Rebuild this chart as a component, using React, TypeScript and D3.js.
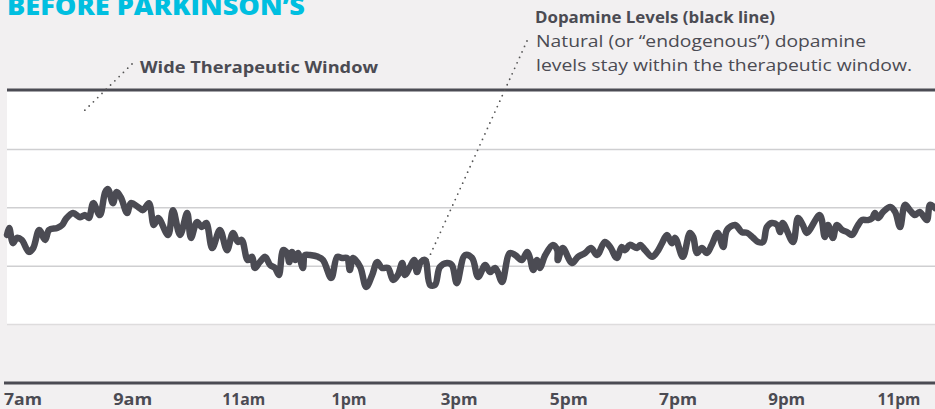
import React from "react";
import * as d3 from "d3";

// Time of day in hours (7 = 7am, 24 = midnight)
const hours = [
  7.0, 7.04, 7.11, 7.18, 7.27, 7.4, 7.48, 7.59, 7.7, 7.77, 7.92, 8.01, 8.08, 8.21, 8.34, 8.43, 8.5, 8.58, 8.7, 8.8,
  8.85, 8.94, 9.01, 9.09, 9.2, 9.27, 9.4, 9.49, 9.6, 9.69, 9.77, 9.95, 10.04, 10.17, 10.3, 10.37, 10.48, 10.57, 10.65, 10.76,
  10.9, 11.03, 11.14, 11.23, 11.3, 11.41, 11.49, 11.54, 11.63, 11.73, 11.82, 11.91, 11.98, 12.06, 12.13, 12.17, 12.22, 12.28, 12.33, 12.42,
  12.46, 12.55, 12.7, 12.79, 12.94, 13.05, 13.14, 13.23, 13.28, 13.34, 13.47, 13.58, 13.69, 13.78, 13.87, 13.98, 14.07, 14.16, 14.24, 14.29,
  14.38, 14.46, 14.51, 14.58, 14.66, 14.75, 14.84, 14.93, 15.06, 15.15, 15.24, 15.39, 15.52, 15.63, 15.76, 15.85, 15.94, 15.99, 16.07, 16.21,
  16.31, 16.43, 16.53, 16.58, 16.64, 16.71, 16.76, 16.86, 17.0, 17.08, 17.09, 17.18, 17.35, 17.46, 17.59, 17.7, 17.81, 17.95, 18.05, 18.17,
  18.26, 18.32, 18.41, 18.54, 18.6, 18.69, 18.82, 18.91, 19.0, 19.09, 19.18, 19.24, 19.38, 19.51, 19.57, 19.64, 19.73, 19.82, 19.91, 20.02,
  20.12, 20.19, 20.34, 20.46, 20.56, 20.67, 20.76, 20.85, 20.92, 21.01, 21.11, 21.16, 21.21, 21.4, 21.49, 21.58, 21.65, 21.89, 21.98, 22.04,
  22.13, 22.2, 22.3, 22.39, 22.48, 22.57, 22.66, 22.77, 22.85, 22.9, 22.96, 23.05, 23.18, 23.27, 23.36, 23.45, 23.54, 23.63, 23.72, 23.85,
  23.91, 24.0,
];

// Dopamine level (0–100 scale; therapeutic window spans 20–100)
const dopamine = [
  50.7, 53.1, 47.9, 49.7, 49.0, 44.9, 46.2, 52.4, 49.0, 52.4, 53.1, 54.1, 56.2, 58.2, 56.8, 57.5, 56.5, 61.6, 57.5, 65.4,
  66.4, 61.6, 65.4, 63.4, 58.2, 61.6, 60.3, 59.2, 61.6, 54.1, 56.5, 50.7, 59.2, 50.7, 58.2, 49.7, 55.1, 53.4, 54.8, 46.2,
  52.4, 45.5, 51.4, 48.3, 49.0, 42.1, 43.2, 39.4, 41.4, 43.2, 40.4, 39.4, 37.0, 45.5, 44.5, 41.4, 44.9, 42.1, 44.5, 39.4,
  43.8, 43.8, 43.2, 42.1, 36.0, 43.2, 42.8, 42.8, 38.7, 42.8, 39.7, 32.9, 37.0, 41.4, 39.4, 39.4, 35.3, 37.0, 41.1, 37.0,
  39.7, 42.1, 38.0, 41.4, 42.1, 33.6, 33.6, 39.7, 41.1, 40.4, 34.2, 43.8, 42.8, 36.3, 40.4, 38.0, 39.4, 38.0, 34.6, 44.5,
  43.8, 42.1, 44.9, 42.8, 38.7, 42.1, 39.4, 43.8, 47.3, 45.5, 42.1, 46.2, 41.1, 43.2, 44.5, 46.2, 43.8, 48.3, 46.6, 42.8,
  46.6, 45.5, 47.3, 46.2, 47.3, 45.5, 43.2, 44.9, 47.9, 50.7, 47.9, 49.7, 43.2, 51.4, 50.0, 44.5, 46.2, 44.5, 47.3, 51.4,
  46.6, 52.4, 54.1, 51.7, 51.4, 49.7, 48.3, 48.3, 53.4, 54.8, 54.1, 51.7, 54.8, 48.3, 56.5, 54.1, 51.4, 57.5, 50.0, 54.1,
  49.7, 54.1, 52.4, 51.7, 50.7, 53.4, 55.8, 55.8, 56.5, 58.2, 56.5, 58.6, 60.3, 58.6, 53.4, 61.0, 59.2, 57.5, 58.6, 55.8,
  61.0, 59.9,
];

const tickHours = [7, 9, 11, 13, 15, 17, 19, 21, 23];
const tickLabels = ["7am", "9am", "11am", "1pm", "3pm", "5pm", "7pm", "9pm", "11pm"];
const gridLevels = [40, 60, 80];
const windowRange = [20, 100];

const W = 935;
const H = 409;
const DARK = "#4b4b53";
const FONT = "'Open Sans', Lato, sans-serif";

export default function App() {
  const x = d3.scaleLinear().domain([7, 24]).range([7, 935]);
  const y = d3.scaleLinear().domain([0, 100]).range([383, 91]);

  const pts: [number, number][] = hours.map((h, i) => [h, dopamine[i]]);
  const line = d3
    .line<[number, number]>()
    .x((d) => x(d[0]))
    .y((d) => y(d[1]))
    .curve(d3.curveCatmullRom.alpha(0.5));

  const dotted = {
    stroke: "#555",
    strokeWidth: 1.8,
    strokeDasharray: "0 6",
    strokeLinecap: "round" as const,
    fill: "none",
  };

  const tickWidths = [38, 39, 43, 35, 37, 38, 38, 37, 43];

  return (
    <svg
      width={W}
      height={H}
      style={{ position: "absolute", left: 0, top: 0, display: "block" }}
    >
      <rect x={0} y={0} width={W} height={H} fill="#f2f0f1" />
      {/* therapeutic window */}
      <rect
        x={x(7)}
        y={y(windowRange[1])}
        width={x(24) - x(7)}
        height={y(windowRange[0]) - y(windowRange[1])}
        fill="#ffffff"
      />
      <line x1={x(7)} x2={W} y1={y(windowRange[0])} y2={y(windowRange[0])} stroke="#dedcdd" strokeWidth={1.5} />
      {gridLevels.map((g) => (
        <line key={g} x1={x(7)} x2={W} y1={y(g)} y2={y(g)} stroke="#cfcfd1" strokeWidth={1.5} />
      ))}
      <line x1={x(7)} x2={W} y1={y(100) - 1} y2={y(100) - 1} stroke={DARK} strokeWidth={3} />
      {/* x axis */}
      <line x1={4} x2={W} y1={y(0)} y2={y(0)} stroke={DARK} strokeWidth={3} />
      {tickHours.map((h, i) => (
        <text
          key={h}
          x={x(h) - 3}
          y={405}
          fontFamily={FONT}
          fontWeight={700}
          fontSize={15.5}
          fill={DARK}
          textLength={tickWidths[i]}
          lengthAdjust="spacingAndGlyphs"
        >
          {tickLabels[i]}
        </text>
      ))}
      {/* data line */}
      <path
        d={line(pts) || ""}
        fill="none"
        stroke={DARK}
        strokeWidth={6.5}
        strokeLinejoin="round"
        strokeLinecap="round"
      />
      {/* title */}
      <text
        x={7}
        y={15}
        fontFamily={FONT}
        fontWeight={800}
        fontSize={25}
        fill="#00bfe0"
        textLength={298}
        lengthAdjust="spacingAndGlyphs"
      >
        BEFORE PARKINSON’S
      </text>
      {/* annotations */}
      <line x1={132} y1={64} x2={82} y2={113} {...dotted} />
      <text
        x={140}
        y={73}
        fontFamily={FONT}
        fontWeight={700}
        fontSize={16.5}
        fill={DARK}
        textLength={238}
        lengthAdjust="spacingAndGlyphs"
      >
        Wide Therapeutic Window
      </text>
      <line x1={527} y1={41} x2={427} y2={262} {...dotted} />
      <text
        x={535}
        y={23}
        fontFamily={FONT}
        fontWeight={700}
        fontSize={16}
        fill={DARK}
        textLength={240}
        lengthAdjust="spacingAndGlyphs"
      >
        Dopamine Levels (black line)
      </text>
      <text
        x={536}
        y={47}
        fontFamily={FONT}
        fontWeight={400}
        fontSize={17}
        fill={DARK}
        textLength={330}
        lengthAdjust="spacingAndGlyphs"
      >
        Natural (or “endogenous”) dopamine
      </text>
      <text
        x={536}
        y={71}
        fontFamily={FONT}
        fontWeight={400}
        fontSize={17}
        fill={DARK}
        textLength={376}
        lengthAdjust="spacingAndGlyphs"
      >
        levels stay within the therapeutic window.
      </text>
    </svg>
  );
}
